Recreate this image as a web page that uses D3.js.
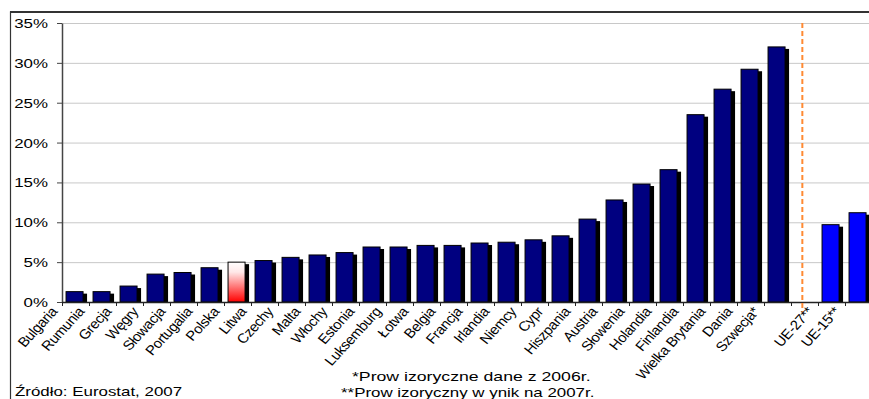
<!DOCTYPE html>
<html>
<head>
<meta charset="utf-8">
<script src="https://cdn.jsdelivr.net/npm/d3@7"></script>
<style>
  body { margin: 0; background: #fff; }
  svg { display: block; }
  text { font-family: "Liberation Sans", Arial, sans-serif; fill: #000; }
</style>
</head>
<body>
<svg id="chart"></svg>
<script>
/* global d3 */

// ---- data ----
const categories = ['Bulgaria', 'Rumunia', 'Grecja', 'Węgry', 'Słowacja', 'Portugalia', 'Polska',
  'Litwa', 'Czechy', 'Malta', 'Włochy', 'Estonia', 'Luksemburg', 'Łotwa', 'Belgia', 'Francja',
  'Irlandia', 'Niemcy', 'Cypr', 'Hiszpania', 'Austria', 'Słowenia', 'Holandia', 'Finlandia',
  'Wielka Brytania', 'Dania', 'Szwecja*', '', 'UE-27**', 'UE-15**']
const values = [1.3, 1.3, 2.0, 3.5, 3.7, 4.3, 5.0,
  5.2, 5.6, 5.9, 6.2, 6.9, 6.9, 7.1, 7.1, 7.4,
  7.5, 7.8, 8.3, 10.4, 12.8, 14.8, 16.6, 23.5,
  26.7, 29.2, 32.0, null, 9.7, 11.2]
const yTicks = [0, 5, 10, 15, 20, 25, 30, 35]
const highlighted = ['Polska']
const euAverages = ['UE-27**', 'UE-15**']
const footnotes = ['*Prow izoryczne dane z 2006r.', '**Prow izoryczny w ynik na 2007r.']
const source = 'Źródło: Eurostat, 2007'

// ---- layout ----
const chartW = 869
const chartH = 399
const plotLeft = 62
const plotRight = 872
const plotTop = 23
const plotBottom = 302

const svg = d3.select('#chart').attr('width', chartW).attr('height', chartH)

const x = d3.scaleBand().domain(d3.range(categories.length)).range([plotLeft, plotRight])
const xi = d3.scaleLinear().domain([0, categories.length]).range([plotLeft, plotRight])
const y = d3.scaleLinear().domain([0, 35]).range([plotBottom, plotTop])
const bw = x.bandwidth()

const defs = svg.append('defs')
const grad = defs.append('linearGradient').attr('id', 'polGrad')
  .attr('x1', 0).attr('y1', 0).attr('x2', 0).attr('y2', 1)
grad.append('stop').attr('offset', '0%').attr('stop-color', '#ffffff')
grad.append('stop').attr('offset', '25%').attr('stop-color', '#ffe8e8')
grad.append('stop').attr('offset', '100%').attr('stop-color', '#ff0000')

// outer frame
svg.append('rect')
  .attr('x', 10.5).attr('y', 12).attr('width', 900).attr('height', 420)
  .attr('fill', 'none').attr('stroke', '#333').attr('stroke-width', 1.2)
svg.append('line')
  .attr('x1', 10).attr('x2', chartW).attr('y1', 12).attr('y2', 12)
  .attr('stroke', '#333').attr('stroke-width', 2)

// gridlines
const grid = svg.append('g').attr('transform', `translate(${plotLeft},0)`)
  .call(d3.axisLeft(y).tickValues(yTicks.filter(d => d > 0)).tickSize(-(plotRight - plotLeft)).tickFormat(''))
grid.select('.domain').remove()
grid.selectAll('line').attr('stroke', '#c8c8c8').attr('stroke-width', 1)

// bars
const rows = categories.map((c, i) => ({ c, i, v: values[i] })).filter(d => d.v != null)
const barOff = bw * 0.15
const barW = bw * 0.63

svg.append('g').selectAll('rect').data(rows).join('rect')
  .attr('x', d => x(d.i) + barOff + 4)
  .attr('y', d => y(d.v) + 2)
  .attr('width', barW)
  .attr('height', d => y(0) - y(d.v) - 2)
  .attr('fill', '#000')

svg.append('g').selectAll('rect').data(rows).join('rect')
  .attr('x', d => x(d.i) + barOff)
  .attr('y', d => y(d.v))
  .attr('width', barW)
  .attr('height', d => y(0) - y(d.v))
  .attr('fill', d => highlighted.includes(d.c) ? 'url(#polGrad)' : euAverages.includes(d.c) ? '#0000ff' : '#000080')
  .attr('stroke', '#000')
  .attr('stroke-width', 1)

// y axis
const yAxis = svg.append('g').attr('transform', `translate(${plotLeft},0)`)
  .call(d3.axisLeft(y).tickValues(yTicks).tickSize(5).tickSizeOuter(0).tickFormat(d => d + '%'))
yAxis.select('.domain').attr('stroke', '#444').attr('stroke-width', 1.5)
yAxis.selectAll('line').attr('stroke', '#444')
yAxis.selectAll('text')
  .attr('x', 0).attr('dy', '0.35em')
  .attr('transform', 'translate(-14,0) scale(1.3,1)')
  .style('font-size', '13px')
  .style('font-family', '"Liberation Sans", Arial, sans-serif')

// x axis (ticks on category boundaries)
const xAxis = svg.append('g').attr('transform', `translate(0,${plotBottom})`)
  .call(d3.axisBottom(xi).tickValues(d3.range(categories.length + 1)).tickSize(4).tickSizeOuter(0).tickFormat(''))
xAxis.select('.domain').attr('stroke', '#222').attr('stroke-width', 1.5)
xAxis.selectAll('line').attr('stroke', '#222')

// separator
const gapIndex = categories.indexOf('')
svg.append('line')
  .attr('x1', x(gapIndex) + bw * 0.42).attr('x2', x(gapIndex) + bw * 0.42)
  .attr('y1', y(35)).attr('y2', y(0) + 10)
  .attr('stroke', '#ff8a33').attr('stroke-width', 2).attr('stroke-dasharray', '5,3')

// category labels
svg.append('g').selectAll('text').data(categories.map((c, i) => ({ c, i })).filter(d => d.c !== ''))
  .join('text')
  .attr('transform', d => `translate(${x(d.i) - 4},312) scale(1.1,1) rotate(-50)`)
  .attr('text-anchor', 'end')
  .style('font-size', '13.5px')
  .style('letter-spacing', '-0.3px')
  .text(d => d.c)

// notes
svg.append('g').selectAll('text').data(footnotes).join('text')
  .attr('transform', (d, i) => `translate(${i === 0 ? 352 : 341},${381 + i * 16}) scale(${i === 0 ? 1.36 : 1.3},1)`)
  .style('font-size', '13px')
  .text(d => d)

svg.append('text')
  .attr('transform', 'translate(15,396) scale(1.3,1)')
  .style('font-size', '13px')
  .text(source)
</script>
</body>
</html>
